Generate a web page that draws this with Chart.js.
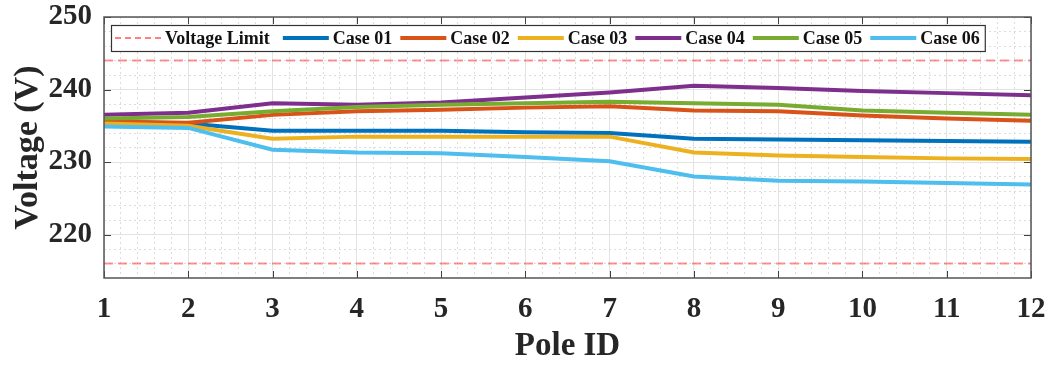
<!DOCTYPE html>
<html>
<head>
<meta charset="utf-8">
<script src="https://cdn.jsdelivr.net/npm/chart.js@4.4.0/dist/chart.umd.min.js"></script>
<style>
  html, body { margin: 0; padding: 0; background: #ffffff; }
  #wrap { width: 1053px; height: 367px; position: relative; }
</style>
</head>
<body>
<div id="wrap"><canvas id="c" width="1053" height="367"></canvas></div>
<script>
// ---- data ----
const poles = [1, 2, 3, 4, 5, 6, 7, 8, 9, 10, 11, 12];
const case01 = [235.6, 235.3, 234.3, 234.3, 234.3, 234.1, 234.0, 233.2, 233.1, 233.0, 232.9, 232.8];
const case02 = [235.6, 235.4, 236.5, 237.0, 237.2, 237.5, 237.7, 237.1, 237.0, 236.4, 236.0, 235.7];
const case03 = [235.3, 235.0, 233.2, 233.5, 233.5, 233.5, 233.5, 231.3, 230.9, 230.7, 230.5, 230.4];
const case04 = [236.5, 236.8, 238.1, 237.9, 238.2, 238.9, 239.6, 240.5, 240.2, 239.8, 239.5, 239.2];
const case05 = [236.0, 236.2, 237.0, 237.6, 237.9, 238.1, 238.3, 238.1, 237.9, 237.1, 236.8, 236.5];
const case06 = [234.9, 234.7, 231.7, 231.3, 231.2, 230.7, 230.1, 228.0, 227.4, 227.3, 227.1, 226.9];
const caseLabels = ['Case 01', 'Case 02', 'Case 03', 'Case 04', 'Case 05', 'Case 06'];
const limitLabel = 'Voltage Limit';
const upperLimit = 244;
const lowerLimit = 216;
const yTickValues = [220, 230, 240, 250];
const xTickValues = [1, 2, 3, 4, 5, 6, 7, 8, 9, 10, 11, 12];
const yMin = 214, yMax = 250;

// ---- styles ----
const caseColors = ['#0072BD', '#D95319', '#EDB120', '#7E2F8E', '#77AC30', '#4DBEEE'];
const FONT = '"Liberation Serif", "Times New Roman", serif';
const TXT = '#262626';

const caseSeries = [case01, case02, case03, case04, case05, case06];
const toPts = arr => arr.map((v, i) => ({ x: poles[i], y: v }));

const datasets = [];
caseSeries.forEach((s, i) => {
  datasets.push({
    label: caseLabels[i],
    data: toPts(s),
    borderColor: caseColors[i],
    backgroundColor: caseColors[i],
    borderWidth: 4,
    pointRadius: 0,
    tension: 0,
    order: 10 - i,
    legendLine: { color: caseColors[i], width: 4, dash: [] }
  });
});
[upperLimit, lowerLimit].forEach((lim, k) => {
  datasets.push({
    label: limitLabel,
    data: [{ x: poles[0], y: lim }, { x: poles[poles.length - 1], y: lim }],
    borderColor: 'rgba(255,40,40,0.5)',
    borderWidth: 2,
    borderDash: [9, 5],
    pointRadius: 0,
    order: 20,
    legendLine: k === 0 ? { color: '#ff0000', width: 1, dash: [6, 4] } : null
  });
});

// minor grid values (style only)
const xMinor = [];
for (let i = 1; i < 12; i++) for (let j = 1; j < 5; j++) xMinor.push(+(i + j * 0.2).toFixed(1));
const yMinor = [];
for (let v = 216; v < 250; v += 2) if (v % 10 !== 0) yMinor.push(v);

// ---- plugins ----
const framePlugin = {
  id: 'frame',
  beforeDatasetsDraw(chart) {
    const { ctx, chartArea: a, scales } = chart;
    ctx.save();
    ctx.strokeStyle = '#404040';
    ctx.lineWidth = 1;
    const tl = 7;
    xTickValues.forEach(v => {
      const px = Math.round(scales.x.getPixelForValue(v)) + 0.5;
      ctx.beginPath(); ctx.moveTo(px, a.bottom); ctx.lineTo(px, a.bottom - tl); ctx.stroke();
      ctx.beginPath(); ctx.moveTo(px, a.top); ctx.lineTo(px, a.top + tl); ctx.stroke();
    });
    yTickValues.forEach(v => {
      const py = Math.round(scales.y.getPixelForValue(v)) + 0.5;
      ctx.beginPath(); ctx.moveTo(a.left, py); ctx.lineTo(a.left + tl, py); ctx.stroke();
      ctx.beginPath(); ctx.moveTo(a.right, py); ctx.lineTo(a.right - tl, py); ctx.stroke();
    });
    ctx.restore();
  },
  afterDraw(chart) {
    const { ctx, chartArea: a } = chart;
    ctx.save();
    ctx.strokeStyle = '#555555';
    ctx.lineWidth = 1.5;
    ctx.strokeRect(a.left, a.top, a.right - a.left, a.bottom - a.top);
    ctx.restore();
  }
};

const legendPlugin = {
  id: 'boxLegend',
  afterDraw(chart) {
    const { ctx } = chart;
    const items = [];
    chart.data.datasets.forEach(ds => { if (ds.legendLine) items.push(ds); });
    items.sort((p, q) => (p.label === limitLabel ? -1 : 0) - (q.label === limitLabel ? -1 : 0));
    ctx.save();
    ctx.font = 'bold 18px ' + FONT;
    const lineLen = 46, gapLT = 4, gapTL = 8;
    const boxL = 111, boxT = 25, boxH = 26, padL = 4, padR = 5;
    const gapAfter = it => (it.label === limitLabel ? gapTL + 5 : gapTL);
    let w = padL;
    items.forEach((it, i) => {
      w += lineLen + gapLT + ctx.measureText(it.label).width;
      if (i < items.length - 1) w += gapAfter(it);
    });
    w += padR;
    ctx.fillStyle = '#ffffff';
    ctx.fillRect(boxL, boxT, w, boxH);
    ctx.strokeStyle = '#333333';
    ctx.lineWidth = 1.2;
    ctx.strokeRect(boxL + 0.5, boxT + 0.5, w, boxH);
    let x = boxL + padL;
    const cy = boxT + boxH / 2;
    items.forEach(it => {
      const st = it.legendLine;
      ctx.beginPath();
      ctx.strokeStyle = st.color;
      ctx.lineWidth = st.width;
      ctx.setLineDash(st.dash);
      ctx.moveTo(x, cy); ctx.lineTo(x + lineLen, cy); ctx.stroke();
      ctx.setLineDash([]);
      x += lineLen + gapLT;
      ctx.fillStyle = '#111111';
      ctx.textBaseline = 'middle';
      ctx.textAlign = 'left';
      ctx.fillText(it.label, x, cy + 1);
      x += ctx.measureText(it.label).width + gapAfter(it);
    });
    ctx.restore();
  }
};

new Chart(document.getElementById('c'), {
  type: 'line',
  data: { datasets },
  options: {
    responsive: false,
    animation: false,
    devicePixelRatio: 1,
    layout: { padding: { left: 0, top: 17, right: 22, bottom: 0 } },
    plugins: { legend: { display: false }, tooltip: { enabled: false } },
    scales: {
      xm: {
        type: 'linear', position: 'bottom', min: 1, max: 12,
        afterBuildTicks: s => { s.ticks = xMinor.map(v => ({ value: v })); },
        afterFit: s => { s.height = 0; s.paddingLeft = 0; s.paddingRight = 0; },
        ticks: { display: false },
        grid: { color: '#dcdcdc', lineWidth: 1, drawTicks: false },
        border: { display: false, dash: [2, 3] }
      },
      ym: {
        type: 'linear', position: 'left', min: yMin, max: yMax,
        afterBuildTicks: s => { s.ticks = yMinor.map(v => ({ value: v })); },
        afterFit: s => { s.width = 0; s.paddingTop = 0; s.paddingBottom = 0; },
        ticks: { display: false },
        grid: { color: '#dcdcdc', lineWidth: 1, drawTicks: false },
        border: { display: false, dash: [2, 3] }
      },
      x: {
        type: 'linear', position: 'bottom', min: 1, max: 12,
        afterBuildTicks: s => { s.ticks = xTickValues.map(v => ({ value: v })); },
        afterFit: s => { s.height = 89; s.paddingLeft = 0; s.paddingRight = 0; },
        ticks: { color: TXT, font: { family: FONT, size: 29, weight: 'bold' }, padding: 14, maxRotation: 0 },
        grid: { color: '#e3e3e3', lineWidth: 1, drawTicks: false },
        border: { display: false },
        title: { display: true, text: 'Pole ID', color: TXT, font: { family: FONT, size: 33, weight: 'bold' }, padding: { top: 0, bottom: 1 } }
      },
      y: {
        type: 'linear', position: 'left', min: yMin, max: yMax,
        afterBuildTicks: s => { s.ticks = yTickValues.map(v => ({ value: v })); },
        afterFit: s => { s.width = 104; s.paddingTop = 0; s.paddingBottom = 0; },
        ticks: { color: TXT, font: { family: FONT, size: 29, weight: 'bold' }, padding: 12 },
        grid: { color: '#e3e3e3', lineWidth: 1, drawTicks: false },
        border: { display: false },
        title: { display: true, text: 'Voltage (V)', color: TXT, font: { family: FONT, size: 34, weight: 'bold' }, padding: { top: 8, bottom: 0 } }
      }
    }
  },
  plugins: [framePlugin, legendPlugin]
});
</script>
</body>
</html>
